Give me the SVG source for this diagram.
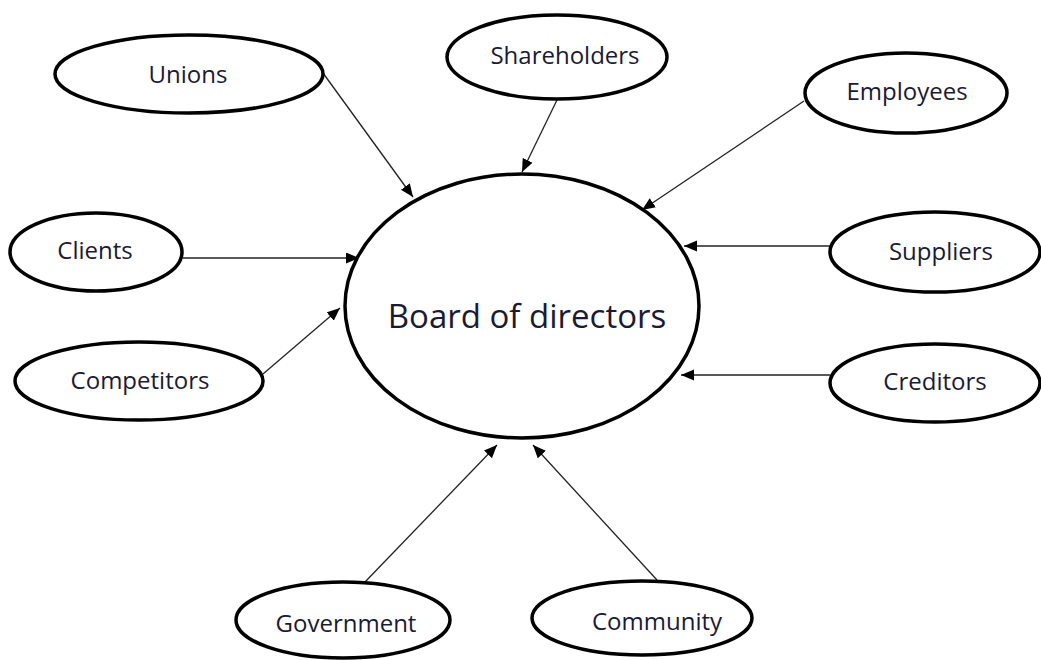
<svg xmlns="http://www.w3.org/2000/svg" width="1041" height="660" viewBox="0 0 1041 660">
<style>
.node ellipse{fill:#fff;stroke:#000;stroke-width:3.5}
.node text{font-family:"Open Sans","Noto Sans","DejaVu Sans",sans-serif;font-size:24px;fill:#1a1a33;text-anchor:middle}
#board text{font-size:33px}
.edges line{stroke:#222;stroke-width:1.3;marker-end:url(#arrow)}
</style>
<defs>
<marker id="arrow" markerUnits="userSpaceOnUse" markerWidth="14" markerHeight="12" refX="13" refY="5.5" orient="auto">
<path d="M0,0 L13,5.5 L0,11 z" fill="#000"/>
</marker>
</defs>
<rect width="1041" height="660" fill="#fff"/>
<g class="edges" id="connectors">
<line x1="323" y1="73" x2="413" y2="197"/>
<line x1="557" y1="100" x2="522" y2="172"/>
<line x1="804" y1="101" x2="642" y2="210"/>
<line x1="183" y1="258" x2="359" y2="258"/>
<line x1="263" y1="374" x2="340" y2="308"/>
<line x1="830" y1="246" x2="684" y2="246"/>
<line x1="830" y1="375" x2="681" y2="375"/>
<line x1="365" y1="582" x2="497" y2="445"/>
<line x1="657" y1="580" x2="533" y2="445"/>
</g>
<g class="node" id="board"><ellipse cx="522" cy="306" rx="177" ry="132"/><text x="527" y="328">Board of directors</text></g>
<g class="node" id="unions"><ellipse cx="189" cy="74" rx="134" ry="39"/><text x="188" y="83">Unions</text></g>
<g class="node" id="shareholders"><ellipse cx="557" cy="57" rx="110" ry="42"/><text x="565" y="64">Shareholders</text></g>
<g class="node" id="employees"><ellipse cx="906" cy="93" rx="101" ry="40"/><text x="907" y="100">Employees</text></g>
<g class="node" id="clients"><ellipse cx="96" cy="252" rx="86" ry="39"/><text x="95" y="259">Clients</text></g>
<g class="node" id="suppliers"><ellipse cx="935" cy="252" rx="105" ry="40"/><text x="941" y="260">Suppliers</text></g>
<g class="node" id="competitors"><ellipse cx="139" cy="381" rx="124" ry="39"/><text x="140" y="389">Competitors</text></g>
<g class="node" id="creditors"><ellipse cx="935" cy="383" rx="105" ry="39"/><text x="935" y="390">Creditors</text></g>
<g class="node" id="government"><ellipse cx="343" cy="620" rx="107" ry="38"/><text x="346" y="632">Government</text></g>
<g class="node" id="community"><ellipse cx="642" cy="618" rx="110" ry="37"/><text x="657" y="630">Community</text></g>
</svg>
